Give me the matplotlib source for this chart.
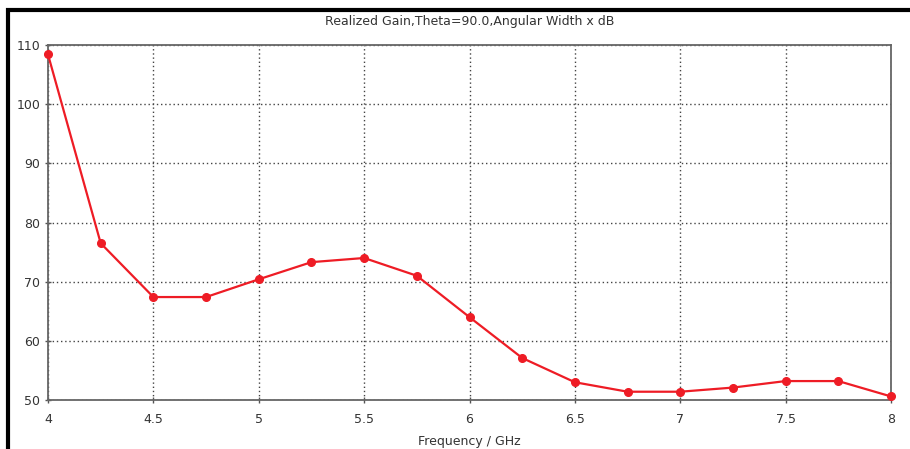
import matplotlib
matplotlib.use("Agg")
import matplotlib.pyplot as plt
from matplotlib.patches import Rectangle

freq = [4.0, 4.25, 4.5, 4.75, 5.0, 5.25, 5.5, 5.75, 6.0, 6.25, 6.5, 6.75, 7.0, 7.25, 7.5, 7.75, 8.0]
gain = [108.4, 76.5, 67.4, 67.4, 70.4, 73.3, 74.0, 71.0, 64.0, 57.1, 53.0, 51.4, 51.4, 52.1, 53.2, 53.2, 50.6]
xticks = [4, 4.5, 5, 5.5, 6, 6.5, 7, 7.5, 8]
xticklabels = ["4", "4.5", "5", "5.5", "6", "6.5", "7", "7.5", "8"]
yticks = [50, 60, 70, 80, 90, 100, 110]

fig = plt.figure(figsize=(9.1, 4.49), dpi=100)
ax = fig.add_axes([48/910, 1-400/449, (891-48)/910, (400-45)/449])

ax.plot(freq, gain, color="#ee1c25", lw=1.6, marker="o", ms=5.5, mec="#ee1c25", mfc="#ee1c25", zorder=5, clip_on=False)
ax.set_xlim(4, 8)
ax.set_ylim(50, 110)
ax.set_xticks(xticks)
ax.set_xticklabels(xticklabels)
ax.set_yticks(yticks)
ax.grid(True, color="#444444", linestyle=(0, (1.0, 2.0)), lw=1.0)
ax.tick_params(direction="inout", length=5, width=1, color="#555555", labelsize=9, labelcolor="#333333")
ax.tick_params(axis="x", pad=7)
ax.tick_params(axis="y", pad=3)
for s in ax.spines.values():
    s.set_color("#666666")
    s.set_linewidth(1.3)
ax.set_xlabel("Frequency / GHz", fontsize=9, color="#333333", labelpad=6)
fig.text(470/910, 1-21/449, "Realized Gain,Theta=90.0,Angular Width x dB", ha="center", va="center", fontsize=9, color="#333333")

fig.patches.append(Rectangle((8/910, -0.1), 1.2, (1-10/449)+0.1, transform=fig.transFigure,
                             fill=False, edgecolor="black", lw=3))

fig.savefig("out.png", dpi=100)
